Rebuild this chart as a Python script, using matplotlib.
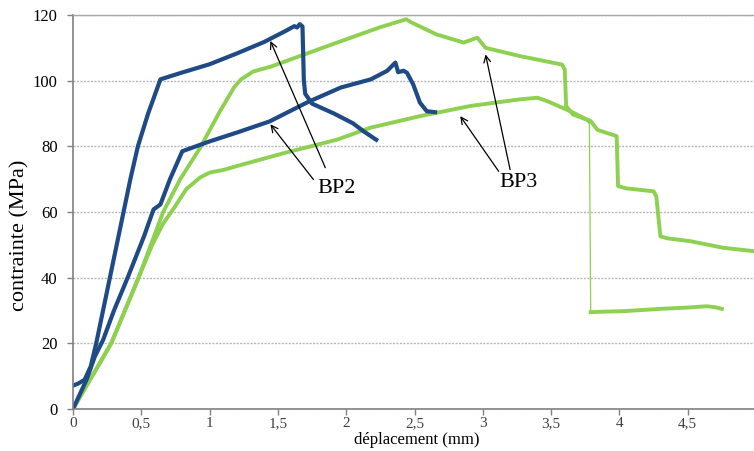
import matplotlib
matplotlib.use("Agg")
import matplotlib.pyplot as plt

plt.rcParams['font.family'] = ['Liberation Serif', 'DejaVu Serif']

# BP2 - first specimen (steep, peak ~117 MPa)
bp2a_x = [0.0, 0.04, 0.085, 0.13, 0.17, 0.22, 0.27, 0.32, 0.37, 0.42, 0.475, 0.55, 0.64,
          0.8, 1.0, 1.2, 1.4, 1.55, 1.62, 1.64, 1.66, 1.68, 1.69, 1.70, 1.75, 1.91, 2.05, 2.13, 2.22]
bp2a_y = [7.1, 7.8, 8.9, 13.0, 20.0, 30.0, 40.0, 50.0, 60.0, 70.0, 80.0, 90.0, 100.4,
          102.5, 105.0, 108.3, 111.8, 115.0, 116.6, 116.2, 117.2, 116.5, 100.0, 96.0, 93.0, 90.0, 87.0, 84.5, 82.0]

# BP2 - second specimen (knee ~78 MPa, peak ~105 MPa)
bp2b_x = [0.0, 0.1, 0.16, 0.22, 0.30, 0.40, 0.52, 0.57, 0.59, 0.64, 0.71, 0.80,
          1.0, 1.2, 1.44, 1.72, 1.96, 2.18, 2.3, 2.36, 2.38, 2.42, 2.445, 2.49, 2.54, 2.59, 2.65]
bp2b_y = [0.0, 9.0, 16.0, 21.0, 30.0, 40.0, 52.6, 58.5, 60.8, 62.3, 70.0, 78.5,
          81.5, 84.2, 87.6, 93.5, 97.9, 100.4, 103.0, 105.5, 102.6, 103.0, 102.4, 98.9, 93.3, 90.7, 90.4]

# BP3 - first specimen (peak ~118 MPa)
bp3a_x = [0.0, 0.14, 0.28, 0.38, 0.48, 0.57, 0.66, 0.785, 0.93, 1.08, 1.18, 1.23, 1.32, 1.45,
          1.86, 2.25, 2.44, 2.47, 2.66, 2.86, 2.96, 3.02, 3.27, 3.58, 3.60, 3.61,
          3.66, 3.79, 3.84, 3.98, 3.99, 4.05, 4.25, 4.27, 4.30, 4.35, 4.52, 4.76, 5.0]
bp3a_y = [0.0, 10.0, 20.0, 30.0, 40.0, 50.0, 60.0, 70.0, 79.5, 91.0, 98.0, 100.4, 102.8, 104.3,
          110.5, 116.3, 118.7, 117.9, 114.1, 111.6, 113.1, 110.0, 107.5, 104.9, 103.4, 92.3,
          89.7, 87.7, 85.0, 83.1, 67.9, 67.2, 66.3, 64.8, 52.6, 52.0, 51.1, 49.1, 48.0]

# BP3 - second specimen (peak ~95 MPa, drop to ~30 MPa)
bp3b_x = [0.0, 0.14, 0.28, 0.38, 0.48, 0.58, 0.66, 0.736, 0.83, 0.93, 1.0, 1.1, 1.2,
          1.55, 1.93, 2.18, 2.54, 2.91, 3.27, 3.40, 3.47, 3.64, 3.76, 3.78]
bp3b_y = [0.0, 10.0, 20.0, 30.0, 40.0, 50.0, 56.5, 61.0, 67.0, 70.5, 72.0, 72.8, 74.0,
          78.0, 82.0, 85.7, 89.2, 92.3, 94.3, 94.8, 93.8, 90.7, 88.2, 87.5]
bp3b_tail_x = [3.79, 3.85, 4.03, 4.3, 4.5, 4.64, 4.70, 4.75]
bp3b_tail_y = [29.5, 29.6, 29.8, 30.5, 30.9, 31.3, 31.0, 30.5]

xticks = [0, 0.5, 1, 1.5, 2, 2.5, 3, 3.5, 4, 4.5, 5]
xticklabels = ['0', '0,5', '1', '1,5', '2', '2,5', '3', '3,5', '4', '4,5', '']
yticks = [0, 20, 40, 60, 80, 100, 120]

blue = '#1f4a86'
green = '#8ed04f'

fig = plt.figure(figsize=(7.54, 4.51), dpi=100)
ax = fig.add_axes([73/754, 1-409/451, (756-73)/754, (409-15)/451])

ax.plot(bp3a_x, bp3a_y, color=green, lw=2.8, solid_joinstyle='round')
ax.plot(bp3b_x, bp3b_y, color=green, lw=2.8, solid_joinstyle='round')
ax.plot([bp3b_x[-1], bp3b_tail_x[0]], [bp3b_y[-1], bp3b_tail_y[0]], color=green, lw=0.9)
ax.plot(bp3b_tail_x, bp3b_tail_y, color=green, lw=2.8, solid_joinstyle='round')
ax.plot(bp2b_x, bp2b_y, color=blue, lw=3.0, solid_joinstyle='round')
ax.plot(bp2a_x, bp2a_y, color=blue, lw=3.0, solid_joinstyle='round')

ax.set_xlim(0, 5)
ax.set_ylim(0, 120)
ax.set_xticks(xticks)
ax.set_xticklabels(xticklabels)
ax.set_yticks(yticks)
ax.tick_params(axis='x', length=4, width=1, color='#808080', labelsize=11, pad=2, labelcolor='#404040')
ax.tick_params(axis='y', length=4, width=1, color='#808080', labelsize=12, pad=7)

ax.grid(axis='y', color='#b8b8b8', lw=1, linestyle=(0, (1.5, 1)))
ax.set_axisbelow(True)
for s in ['left', 'bottom']:
    ax.spines[s].set_color('#808080')
    ax.spines[s].set_linewidth(1.2)
ax.spines['right'].set_visible(False)
ax.spines['top'].set_color('#a8a8a8')
ax.spines['top'].set_linewidth(1.0)

# annotations
aprops = dict(arrowstyle='->', lw=0.9, color='black', shrinkA=0, shrinkB=0,
              mutation_scale=12)
ax.text(1.93, 67.2, 'BP2', fontsize=16, ha='center', va='center')
ax.annotate('', xy=(1.445, 112.1), xytext=(1.847, 73.5), arrowprops=aprops)
ax.annotate('', xy=(1.445, 86.7), xytext=(1.76, 69.9), arrowprops=aprops)
ax.text(3.26, 69.0, 'BP3', fontsize=16, ha='center', va='center')
ax.annotate('', xy=(3.02, 108.0), xytext=(3.20, 72.9), arrowprops=aprops)
ax.annotate('', xy=(2.835, 89.2), xytext=(3.116, 72.4), arrowprops=aprops)

fig.text(20/754, 1-235/451, 'contrainte (MPa)', rotation=90, fontsize=16,
         ha='center', va='center')
fig.text(417/754, 1-440/451, 'déplacement (mm)', fontsize=12, ha='center', va='center')

fig.savefig('out.png', dpi=100)
